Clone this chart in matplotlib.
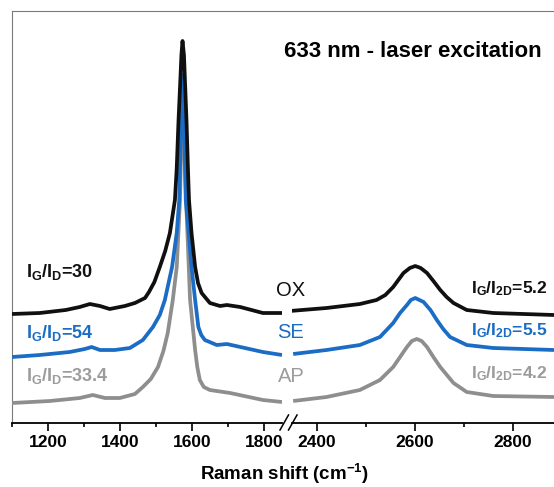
import matplotlib

matplotlib.use("Agg")
import matplotlib.pyplot as plt
from matplotlib.lines import Line2D
from matplotlib.ticker import MultipleLocator

# --- данные (Raman shift, интенсивность в у.е.) ---
ox_lo_x = [1100, 1177, 1249, 1288, 1316, 1344, 1371, 1413, 1441, 1469, 1480, 1495, 1510, 1525, 1538,
           1552, 1557, 1562, 1567, 1570, 1573, 1577, 1584, 1588, 1591, 1598, 1608, 1616, 1626, 1649,
           1677, 1696, 1733, 1796, 1849]
ox_lo_y = [109, 110, 113, 116, 119, 117, 114, 117, 120, 125, 131, 141, 156, 172, 190,
           223, 255, 303, 343, 368, 382, 368, 303, 255, 223, 190, 156, 140, 130, 120,
           117, 118, 116, 110, 110]
ox_hi_x = [2345, 2420, 2488, 2522, 2540, 2556, 2577, 2590, 2601, 2612, 2625, 2638, 2652, 2665, 2679,
           2706, 2760, 2884]
ox_hi_y = [112, 115, 119, 123, 128, 136, 150, 155, 157, 155, 150, 142, 133, 126, 120,
           113, 110, 108]

se_lo_x = [1100, 1177, 1260, 1302, 1321, 1344, 1385, 1427, 1463, 1491, 1510, 1524, 1544, 1557, 1564,
           1567, 1571, 1573, 1577, 1582, 1590, 1598, 1608, 1617, 1625, 1635, 1668, 1696, 1796, 1849]
se_lo_y = [66, 68, 71, 74, 76, 73, 73, 75, 83, 96, 108, 123, 156, 190, 223,
           273, 333, 348, 313, 223, 190, 156, 123, 96, 88, 83, 78, 79, 71, 68]
se_hi_x = [2352, 2420, 2488, 2529, 2556, 2570, 2584, 2592, 2601, 2618, 2632, 2645, 2658, 2672, 2706,
           2760, 2884]
se_hi_y = [69, 73, 78, 86, 100, 110, 118, 123, 125, 121, 113, 103, 94, 86, 78,
           75, 73]

ap_lo_x = [1100, 1205, 1288, 1324, 1358, 1399, 1441, 1463, 1485, 1505, 1520, 1532, 1546, 1557, 1566,
           1569, 1573, 1578, 1583, 1594, 1608, 1614, 1621, 1632, 1649, 1705, 1796, 1849]
ap_lo_y = [20, 22, 25, 28, 25, 25, 29, 36, 44, 56, 72, 90, 123, 156, 223,
           273, 313, 273, 223, 123, 73, 56, 43, 36, 33, 30, 23, 21]
ap_hi_x = [2352, 2420, 2488, 2529, 2556, 2570, 2584, 2594, 2604, 2614, 2625, 2638, 2652, 2679, 2706,
           2760, 2884]
ap_hi_y = [22, 26, 33, 43, 56, 66, 76, 82, 84, 82, 76, 66, 56, 40, 31,
           27, 26]

BLACK = "#101010"
BLUE = "#1a6cc4"
GRAY = "#8e8e8e"
GRAY_TXT = "#9c9c9c"

plt.rcParams["font.family"] = ["Liberation Sans", "DejaVu Sans"]
plt.rcParams["font.weight"] = "bold"
plt.rcParams["mathtext.fontset"] = "custom"
plt.rcParams["mathtext.rm"] = "Liberation Sans"
plt.rcParams["mathtext.bf"] = "Liberation Sans:bold"

W, H = 554, 487
fig = plt.figure(figsize=(W / 100, H / 100), dpi=100)


def px(x, y):
    """пиксели картинки -> доли фигуры"""
    return x / W, 1 - y / H


left_px, top_px, bottom_px = 12, 11, 423
ax_b = (H - bottom_px) / H
ax_h = (bottom_px - top_px) / H

# рамка (верх и левый край) общая для обеих частей
frame = fig.add_axes([left_px / W, ax_b, 1 - left_px / W + 0.05, ax_h])
frame.patch.set_alpha(0)
for side in ["bottom", "right"]:
    frame.spines[side].set_visible(False)
for side in ["top", "left"]:
    frame.spines[side].set_color("#7a7a7a")
    frame.spines[side].set_linewidth(0.8)
frame.set_xticks([])
frame.set_yticks([])

ax1 = fig.add_axes([left_px / W, ax_b, (282 - left_px) / W, ax_h])
ax2 = fig.add_axes([292.2 / W, ax_b, (W - 292.2) / W, ax_h])

segments = [
    (ax1, [(ap_lo_x, ap_lo_y, GRAY), (se_lo_x, se_lo_y, BLUE), (ox_lo_x, ox_lo_y, BLACK)]),
    (ax2, [(ap_hi_x, ap_hi_y, GRAY), (se_hi_x, se_hi_y, BLUE), (ox_hi_x, ox_hi_y, BLACK)]),
]
for ax, curves in segments:
    for xs, ys, c in curves:
        ax.plot(xs, ys, color=c, lw=2.7, solid_joinstyle="round", solid_capstyle="butt")
    ax.patch.set_alpha(0)
    ax.set_ylim(0, 412)
    ax.set_yticks([])
    for side in ["top", "left", "right"]:
        ax.spines[side].set_visible(False)
    ax.spines["bottom"].set_linewidth(1.3)
    ax.xaxis.set_major_locator(MultipleLocator(200))
    ax.xaxis.set_minor_locator(MultipleLocator(100))
    ax.tick_params(axis="x", which="major", direction="out", length=5.5, width=1.2,
                   labelsize=12.5, pad=3)
    ax.tick_params(axis="x", which="minor", direction="out", length=3, width=1.2)

ax1.set_xlim(1100, 1849)
ax2.set_xlim(2350, 2884)

# значок разрыва оси "//"
for x0 in (280, 288.5):
    xa, ya = px(x0, 430)
    xb, yb = px(x0 + 8.5, 415)
    fig.add_artist(Line2D([xa, xb], [ya, yb], color="black", lw=1.1))

# подписи
fig.text(*px(284, 57), "633 nm - laser excitation", fontsize=16, ha="left", va="baseline")
fig.text(*px(284, 480), r"Raman shift (cm$^{\mathbf{-1}}$)", fontsize=13.5, ha="center", va="baseline")

left_labels = [
    (r"$\mathbf{I_G/I_D}$=30", 277, BLACK),
    (r"$\mathbf{I_G/I_D}$=54", 338, BLUE),
    (r"$\mathbf{I_G/I_D}$=33.4", 381.5, GRAY_TXT),
]
for s, yb, c in left_labels:
    fig.text(*px(26, yb), s, fontsize=13, color=c, ha="left", va="baseline")

right_labels = [
    (r"$\mathbf{I_G/I_{2D}}$=5.2", 293, BLACK),
    (r"$\mathbf{I_G/I_{2D}}$=5.5", 335, BLUE),
    (r"$\mathbf{I_G/I_{2D}}$=4.2", 378, GRAY_TXT),
]
for s, yb, c in right_labels:
    fig.text(*px(548, yb), s, fontsize=12.6, color=c, ha="right", va="baseline")

for s, yb, c in [("OX", 296.5, BLACK), ("SE", 338, BLUE), ("AP", 381.5, GRAY_TXT)]:
    fig.text(*px(291, yb), s, fontsize=14.5, color=c, ha="center", va="baseline",
             family="Liberation Sans", fontweight="normal")

fig.savefig("out.png", dpi=100)
